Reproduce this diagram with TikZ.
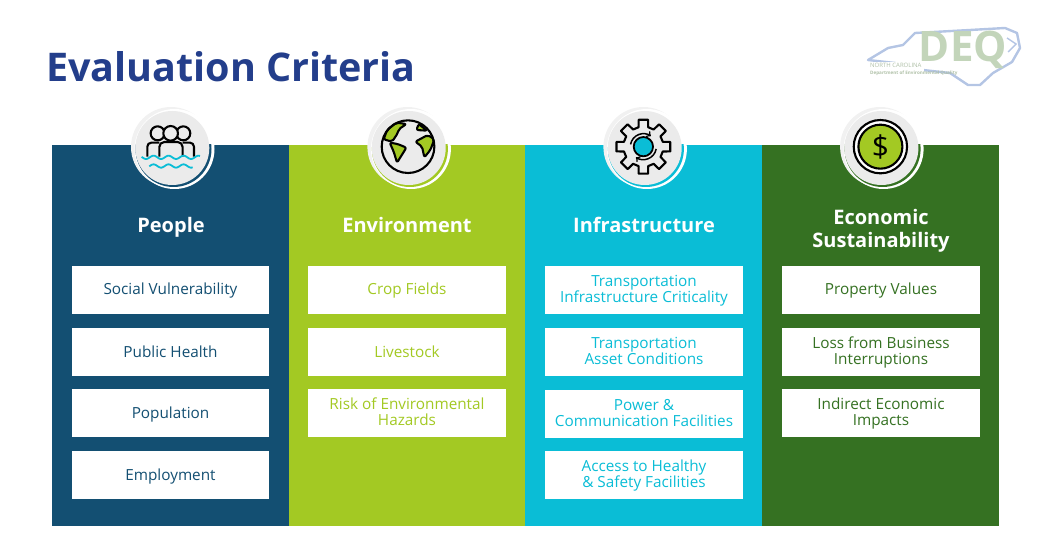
\documentclass[tikz,border=0pt]{standalone}
\usepackage{fontspec}
\setmainfont{Open Sans}
\usepackage{xcolor}
\usetikzlibrary{calc}

\definecolor{peopleblue}{HTML}{134F72}
\definecolor{envgreen}{HTML}{A3C923}
\definecolor{infracyan}{HTML}{0ABDD6}
\definecolor{econgreen}{HTML}{357122}
\definecolor{titleblue}{HTML}{233E8B}
\definecolor{badgegray}{HTML}{EBEBEB}
\definecolor{logoblue}{HTML}{B4C5E4}
\definecolor{logogreen}{HTML}{C3D5BA}

\tikzset{
	critbox/.style = {fill = white, minimum width = 197.5, minimum height = 48, inner sep = 0, align = center, font = \fontsize{15.3}{15.8}\selectfont, text height = 12, text depth = 3},
	critboxlow/.style = {critbox, text height = 14},
	critboxtwo/.style = {critbox, text height = 28},
	colhead/.style = {text = white, align = center, font = \fontsize{20}{23}\selectfont\bfseries},
	icon/.style = {line width = 2.1, line join = round}
}

% round badge above a column: x of its centre, colour of the column
\newcommand{\iconbadge}[2]{
	\filldraw [fill = badgegray!70, draw = none] ({#1 - 1.3},147) circle [radius = 40];
	\filldraw [fill = white, draw = none] ({#1 + 2.2},149) circle [radius = 40];
	\begin{scope}
		\clip ({#1 - 50},145) rectangle ({#1 + 50},200);
		\filldraw [fill = #2, draw = none] ({#1 + 1.2},149) circle [radius = 38];
	\end{scope}
	\filldraw [fill = badgegray, draw = none] (#1,148) circle [radius = 37];
}

\begin{document}
\begin{tikzpicture}[x = 1pt, y = -1pt]
		\useasboundingbox (0,0) rectangle (1051,537);
		
		\node [anchor = west, text = titleblue, inner sep = 0, font = \fontsize{39.5}{40}\selectfont\bfseries] (title) at (46,67) {Evaluation Criteria};
		
		% logo
		\draw [logoblue, line width = 2.4, line join = round] (868,60) -- (888,48) -- (903,45) -- (915,33) -- (970,30) -- (1005,28) -- (1017,33) -- (1020,48) -- (1012,62) -- (993,73) -- (980,85) -- (968,85) -- (950,73) -- (923,70) -- (895,63) -- cycle;
		\draw [logoblue, line width = 1.4] (1007,38) -- (1016,44) -- (1008,52);
		\node [text = logogreen, inner sep = 0, font = \fontsize{42}{42}\selectfont\bfseries] (logodeq) at (963,50) {DEQ};
		\filldraw [white, draw = none] (869,62) rectangle (924,76);
		\node [anchor = west, text = logogreen!90!black, inner sep = 0, font = \fontsize{6}{6}\selectfont] (logostate) at (870,65) {NORTH CAROLINA};
		\node [anchor = west, text = logogreen!90!black, inner sep = 0, font = \fontsize{4.6}{5}\selectfont\bfseries] (logodept) at (870,73) {Department of Environmental Quality};
		
		% columns
		\filldraw [peopleblue, draw = none] (52,145) rectangle (289,526);
		\filldraw [envgreen, draw = none] (289,145) rectangle (525,526);
		\filldraw [infracyan, draw = none] (525,145) rectangle (762,526);
		\filldraw [econgreen, draw = none] (762,145) rectangle (999,526);
		
		\iconbadge{172.3}{peopleblue}
		\iconbadge{408.7}{envgreen}
		\iconbadge{644.7}{infracyan}
		\iconbadge{881.4}{econgreen}
		
		% people icon
		\begin{scope}[shift = {(172.3,148)}, x = 0.3333pt, y = -0.3333pt]
			\draw [icon] (-44,-44) circle [radius = 21];
			\draw [icon] (33,-44) circle [radius = 21];
			\draw [icon, fill = badgegray] (-5,-44) circle [radius = 22];
			\draw [icon, rounded corners = 4pt] (-75,26) -- (-75,-16) -- (-39,-16);
			\draw [icon, rounded corners = 4pt] (65,26) -- (65,-16) -- (31,-16);
			\draw [icon, rounded corners = 5pt] (-39,26) -- (-39,-18) -- (31,-18) -- (31,26);
			\draw [infracyan, line width = 1.8] plot [domain = -92:83, samples = 50] (\x,{28 + 5*sin(\x*8)});
			\draw [infracyan, line width = 1.8] plot [domain = -69:61, samples = 40] (\x,{54 + 5*sin(\x*8)});
		\end{scope}
		
		% globe icon
		\begin{scope}[shift = {(408.7,148)}, x = 0.3333pt, y = -0.3333pt]
			\draw [icon, fill = envgreen, rounded corners = 2pt] (-37,-76) -- (-7,-72) -- (-30,-56) -- (-33,-44) -- (-50,-19) -- (-75,-26) -- (-65,-54) -- cycle;
			\draw [icon, fill = envgreen, rounded corners = 2pt] (-57,-16) -- (-33,-12) -- (-7,-1) -- (-35,44) -- (-45,11) -- cycle;
			\draw [icon, fill = envgreen, rounded corners = 2pt] (30,-72) -- (55,-52) -- (23,-54) -- cycle;
			\draw [icon, fill = envgreen, rounded corners = 2pt] (20,-19) -- (57,-39) -- (77,-26) -- (65,6) -- (47,28) -- (40,-4) -- cycle;
			\draw [icon] (-2,-4) circle [radius = 79];
		\end{scope}
		
		% gear icon
		\begin{scope}[shift = {(644.7,148)}, x = 0.3333pt, y = -0.3333pt]
			\draw [icon] (-4,-4) ++(-10:82)
				\foreach \a in {0,45,...,315} {
					-- ($(-4,-4) + (\a - 10:82)$) -- ($(-4,-4) + (\a + 10:82)$) -- ($(-4,-4) + (\a + 14:60)$) -- ($(-4,-4) + (\a + 31:60)$)
				} -- cycle;
			\filldraw [infracyan, draw = black, line width = 1.8] (-4,-4) circle [radius = 29];
			\draw [line width = 1.5, ->] (-4,-4) ++(190:39) arc [start angle = 190, end angle = 305, radius = 39];
			\draw [line width = 1.5, ->] (-4,-4) ++(10:39) arc [start angle = 10, end angle = 125, radius = 39];
		\end{scope}
		
		% coin icon
		\begin{scope}[shift = {(881.4,148)}, x = 0.3333pt, y = -0.3333pt]
			\draw [icon, fill = white] (-3,-4) circle [radius = 80];
			\draw [icon, fill = envgreen] (-3,-4) circle [radius = 66];
			\node [inner sep = 0, font = \fontsize{30}{30}\selectfont] (dollar) at (-3,-4) {\$};
		\end{scope}
		
		% headers
		\node [colhead] (people) at (171,227) {People};
		\node [colhead] (environment) at (407,225) {Environment};
		\node [colhead] (infrastructure) at (644,225) {Infrastructure};
		\node [colhead] (economic) at (881,231) {Economic\\Sustainability};
		
		% people column
		\node [critbox, text = peopleblue] (social) at (170.5,290) {Social Vulnerability};
		\node [critboxlow, text = peopleblue] (health) at (170.5,352) {Public Health};
		\node [critboxlow, text = peopleblue] (population) at (170.5,413) {Population};
		\node [critboxlow, text = peopleblue] (employment) at (170.5,475) {Employment};
		
		% environment column
		\node [critbox, text = envgreen] (crop) at (407,290) {Crop Fields};
		\node [critboxlow, text = envgreen] (livestock) at (407,352) {Livestock};
		\node [critboxtwo, text = envgreen] (hazards) at (407,413) {Risk of Environmental\\Hazards};
		
		% infrastructure column
		\node [critboxtwo, text = infracyan] (transport) at (644,290) {Transportation\\Infrastructure Criticality};
		\node [critboxtwo, text = infracyan] (asset) at (644,352) {Transportation\\Asset Conditions};
		\node [critboxtwo, text = infracyan] (power) at (644,413.5) {Power \&\\Communication Facilities};
		\node [critboxtwo, text = infracyan] (access) at (644,474.5) {Access to Healthy\\\& Safety Facilities};
		
		% economic column
		\node [critbox, text = econgreen] (property) at (881,290) {Property Values};
		\node [critboxtwo, text = econgreen] (business) at (881,352) {Loss from Business\\Interruptions};
		\node [critboxtwo, text = econgreen] (indirect) at (881,413) {Indirect Economic\\Impacts};
	\end{tikzpicture}
\end{document}
